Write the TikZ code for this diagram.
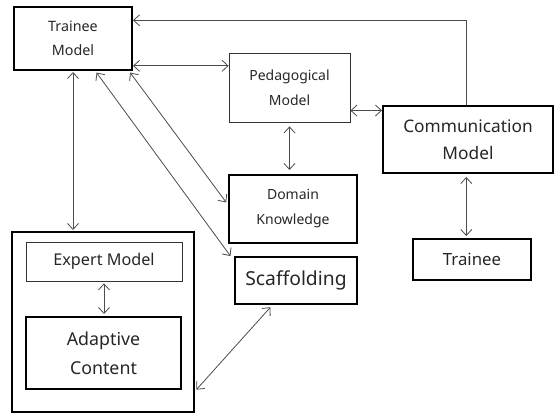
\documentclass[tikz,border=0pt]{standalone}
\usepackage{fontspec}
\setmainfont{Noto Sans}
\usetikzlibrary{arrows.meta,calc}
\begin{document}
\begin{tikzpicture}[x=1pt,y=-1pt,
  box/.style={draw=black,line width=2pt,inner sep=0pt,align=center,text=black!85},
  thinbox/.style={draw=black!80,line width=0.8pt,inner sep=0pt,align=center,text=black!85},
  link/.style={draw=black!70,line width=0.8pt,{Straight Barb[length=6pt,width=11pt]}-{Straight Barb[length=6pt,width=11pt]}},
  onelink/.style={draw=black!70,line width=0.8pt,-{Straight Barb[length=6pt,width=11pt]}}]
\useasboundingbox (0,0) rectangle (556,414);
% Component boxes
\node[box,minimum width=118pt,minimum height=63pt,font=\fontsize{14.3}{24}\selectfont] (tm) at (73,38.5) {Trainee\\Model};
\node[thinbox,minimum width=121pt,minimum height=69pt,font=\fontsize{14}{25}\selectfont] (pm) at (289.5,87.5) {Pedagogical\\Model};
\node[box,minimum width=170pt,minimum height=67pt,font=\fontsize{17.3}{27}\selectfont] (cm) at (468,139.5) {Communication\\Model};
\node[box,minimum width=128pt,minimum height=68pt,font=\fontsize{14}{25}\selectfont] (dk) at (293,209) {Domain\\Knowledge};
\node[box,minimum width=122pt,minimum height=47pt,font=\fontsize{19.3}{20}\selectfont] (sc) at (296,280.5) {Scaffolding};
\node[box,minimum width=118pt,minimum height=41pt,font=\fontsize{16.8}{20}\selectfont] (tr) at (472,259.5) {Trainee};
\node[box,minimum width=182pt,minimum height=180pt] (ex) at (103,322) {};
\node[thinbox,minimum width=156pt,minimum height=39pt,font=\fontsize{16.2}{20}\selectfont] (em) at (104,261.5) {Expert Model};
\node[box,minimum width=155pt,minimum height=72pt,font=\fontsize{17.8}{29}\selectfont] (ac) at (103.5,353) {Adaptive\\Content};
% Connectors
\coordinate (cmtop) at ($(cm.north west)!0.49!(cm.north east)$);
\coordinate (tmtop) at ($(tm.north east)!0.22!(tm.south east)$);
\draw[onelink] (cmtop) |- (tmtop);
\coordinate (tmpm) at ($(tm.north east)!0.92!(tm.south east)$);
\draw[link] (tmpm) -- (tmpm -| pm.west);
\coordinate (pmcm) at ($(pm.north east)!0.83!(pm.south east)$);
\draw[link] (pmcm) -- (pmcm -| cm.west);
\draw[link,shorten <=4pt,shorten >=4pt] (pm.south) -- (pm.south |- dk.north);
\draw[link,shorten <=3pt,shorten >=2pt] (cmtop |- cm.south) -- (cmtop |- tr.north);
\draw[link,shorten <=1pt,shorten >=1pt] (tm.south) -- (tm.south |- ex.north);
\draw[link,shorten <=2pt,shorten >=2pt] (em.south) -- (em.south |- ac.north);
\draw[link,shorten <=2pt,shorten >=3pt] ($(tm.south west)!0.966!(tm.south east)$) -- ($(dk.north west)!0.44!(dk.south west)$);
\draw[link,shorten <=2pt,shorten >=6pt] ($(tm.south west)!0.686!(tm.south east)$) -- ($(sc.north west)!0.1!(sc.south west)$);
\draw[link,shorten <=3pt,shorten >=2pt] ($(sc.south west)!0.31!(sc.south east)$) -- ($(ex.north east)!0.88!(ex.south east)$);
\end{tikzpicture}
\end{document}
